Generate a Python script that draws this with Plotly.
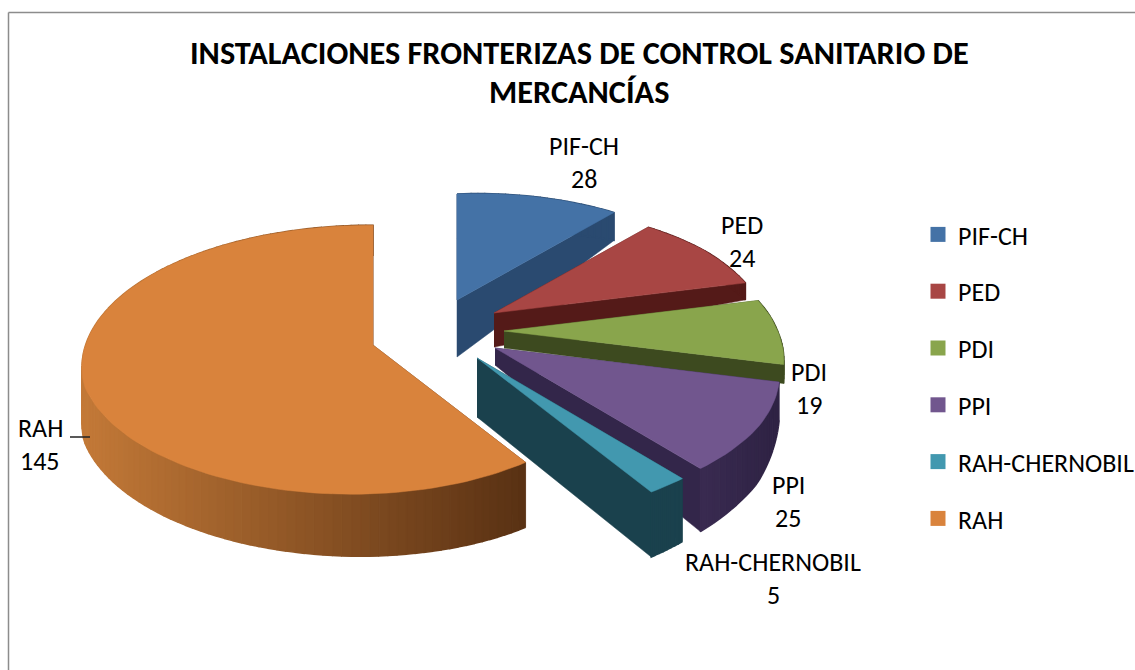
import numpy as np
import plotly.graph_objects as go

# --- data ---
categories = ["PIF-CH", "PED", "PDI", "PPI", "RAH-CHERNOBIL", "RAH"]
values = [28, 24, 19, 25, 5, 145]
title_lines = ["INSTALACIONES FRONTERIZAS DE CONTROL SANITARIO DE", "MERCANCÍAS"]

# --- styling ---
top_colors = ["#4472A6", "#A84644", "#89A54C", "#71568E", "#4298AF", "#D9833C"]
face_colors = ["#2A4A70", "#541A18", "#3D4A1F", "#33264A", "#1A414D", "#5A3214"]
wall_start_colors = ["#2A4A70", "#541A18", "#3D4A1F", "#2F2344", "#1A414D", "#5A3214"]
wall_end_colors = ["#2A4A70", "#541A18", "#3D4A1F", "#3A2B52", "#1A414D", "#C47A38"]
# exploded apex of each slice, in the 1135x670 frame
apex = [(457, 300), (494, 313), (504, 331), (495, 348), (477, 358), (373, 345)]
apex_h = [57, 34, 17, 17, 59, 30]
rim_h = [(45, 36, 28), (26, 22, 17), (19, 19, 19), (38, 55, 63), (63, 64, 65), (65, 56, 30)]
rim_scale = [(0.87, 0.90, 0.93), (0.91, 0.93, 0.94), (0.95, 0.96, 0.975),
             (0.99, 1.0, 1.0), (1.0, 1.0, 1.0), (0.89, 1.01, 1.0)]
label_pos = [(584, 146), (742, 225), (809, 372), (788, 485), (773, 562), (40, 428)]
R, TY, K = 285, 138, 0.152
FONT = "Carlito, Lato, sans-serif"


def project(ax_x, ax_y, theta, r):
    u, v = r * np.sin(theta), -r * np.cos(theta)
    s = 1 / (1 - K * v)
    return ax_x + R * u * s, ax_y + TY * v * s


def poly(fig, xs, ys, color, width=0.5):
    fig.add_trace(go.Scatter(x=xs, y=ys, mode="lines", fill="toself", fillcolor=color,
                             line=dict(color=color, width=width), hoverinfo="skip",
                             showlegend=False))


def hex_rgb(c):
    return np.array([int(c[i:i + 2], 16) for i in (1, 3, 5)], float)


fig = go.Figure()
total = sum(values)
edges = np.concatenate([[0], np.cumsum(values)]) / total * 2 * np.pi

for i, name in enumerate(categories):
    t0, t1 = edges[i], edges[i + 1]
    ax, ay = apex[i]
    n = max(8, int((t1 - t0) / 0.03))
    th = np.linspace(t0, t1, n + 1)
    frac = np.linspace(0, 1, n + 1)
    hr = np.interp(frac, [0, 0.5, 1], rim_h[i])
    rs = np.interp(frac, [0, 0.5, 1], rim_scale[i])
    x, y = project(ax, ay, th, rs)
    # radial faces
    poly(fig, [ax, x[0], x[0], ax], [ay, y[0], y[0] + hr[0], ay + apex_h[i]], face_colors[i])
    poly(fig, [ax, x[-1], x[-1], ax], [ay, y[-1], y[-1] + hr[-1], ay + apex_h[i]], face_colors[i])
    # outer wall, back to front
    c0, c1 = hex_rgb(wall_start_colors[i]), hex_rgb(wall_end_colors[i])
    xmin, xmax = x.min(), x.max()
    for j in np.argsort(np.cos(th[:-1])):
        f = (xmax - x[j]) / (xmax - xmin) if xmax > xmin else 0
        c = c0 + (c1 - c0) * f
        col = "rgb(%d,%d,%d)" % tuple(c)
        poly(fig, [x[j], x[j + 1], x[j + 1], x[j]],
             [y[j], y[j + 1], y[j + 1] + hr[j + 1], y[j] + hr[j]], col, width=1.5)
    # top surface
    poly(fig, np.r_[ax, x, ax], np.r_[ay, y, ay], top_colors[i])

# legend entries
for i, name in enumerate(categories):
    fig.add_trace(go.Scatter(x=[None], y=[None], mode="markers", name=name,
                             legendgroup=name,
                             marker=dict(symbol="square", size=15, color=top_colors[i])))

# data labels
for name, val, (lx, ly) in zip(categories, values, label_pos):
    fig.add_annotation(x=lx, y=ly, text=name, showarrow=False, font=dict(size=26, family=FONT, color="black"))
    fig.add_annotation(x=lx, y=ly + 33, text=str(val), showarrow=False, font=dict(size=26, family=FONT, color="black"))

# leader line for RAH
fig.add_shape(type="line", x0=70, x1=90, y0=437, y1=437, line=dict(color="#222222", width=1.5))

# chart frame
fig.add_shape(type="line", x0=8.5, x1=8.5, y0=12.5, y1=670, line=dict(color="#8c8c8c", width=1.5))
fig.add_shape(type="line", x0=8.5, x1=1135, y0=12.5, y1=12.5, line=dict(color="#8c8c8c", width=1.5))

# title
for line, ty in zip(title_lines, (53, 92)):
    fig.add_annotation(x=579, y=ty, text="<b>%s</b>" % line, showarrow=False,
                       font=dict(size=32.3, family=FONT, color="black"))

fig.update_layout(
    width=1135, height=670, margin=dict(l=0, r=0, t=0, b=0, autoexpand=False),
    paper_bgcolor="white", plot_bgcolor="white",
    xaxis=dict(range=[0, 1135], visible=False, fixedrange=True),
    yaxis=dict(range=[670, 0], visible=False, fixedrange=True),
    legend=dict(x=918 / 1135, y=1 - 211 / 670, xanchor="left", yanchor="top",
                tracegroupgap=20, font=dict(size=26, family=FONT, color="black"),
                bgcolor="rgba(0,0,0,0)"),
)
fig.write_html("out.html", config={"displayModeBar": False},
               post_script="document.body.style.margin='0';")
